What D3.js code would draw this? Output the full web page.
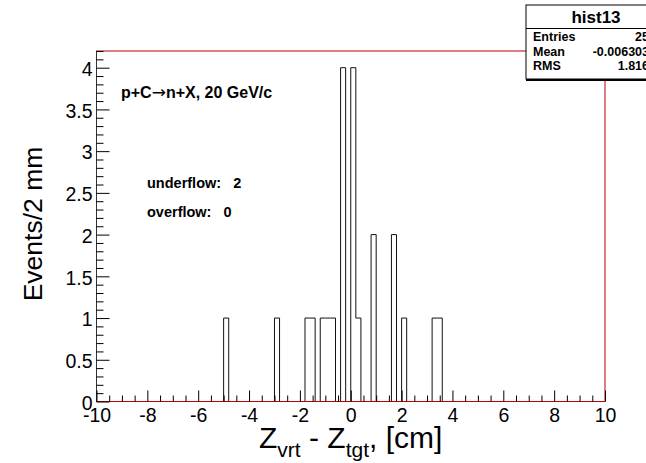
<!DOCTYPE html>
<html>
<head>
  <meta charset="utf-8">
  <style>
    body { margin: 0; background: #fff; }
    svg { display: block; background: #fff; font-family: "Liberation Sans", Arial, sans-serif; }
    .tick text { font-family: "Liberation Sans", Arial, sans-serif; }
  </style>
</head>
<body>
  <div id="chart"></div>
  <script src="https://d3js.org/d3.v7.min.js"></script>
  <script>
    // histogram hist13: 100 bins of 2 mm from -10 to 10 cm
    var xRange = [-10, 10];
    var counts = [
      0, 0, 0, 0, 0, 0, 0, 0, 0, 0,
      0, 0, 0, 0, 0, 0, 0, 0, 0, 0,
      0, 0, 0, 0, 0, 1, 0, 0, 0, 0,
      0, 0, 0, 0, 0, 1, 0, 0, 0, 0,
      0, 1, 1, 0, 1, 1, 1, 0, 4, 0,
      4, 1, 0, 0, 2, 0, 0, 0, 2, 0,
      1, 0, 0, 0, 0, 0, 1, 1, 0, 0,
      0, 0, 0, 0, 0, 0, 0, 0, 0, 0,
      0, 0, 0, 0, 0, 0, 0, 0, 0, 0,
      0, 0, 0, 0, 0, 0, 0, 0, 0, 0
    ];
    var xTicks = [-10, -8, -6, -4, -2, 0, 2, 4, 6, 8, 10];
    var yTicks = [0, 0.5, 1, 1.5, 2, 2.5, 3, 3.5, 4];
    var yMax = 4.2;

    var statsTitle = 'hist13';
    var statsNames = ['Entries', 'Mean', 'RMS'];
    var statsValues = ['25', '-0.006303', '1.816'];
    var notes = ['underflow:   2', 'overflow:   0'];

    var W = 646, H = 463;
    var frame = {left: 96.5, right: 605, top: 51, bottom: 401.5};

    var svg = d3.select('#chart')
        .append('svg')
        .attr('width', W)
        .attr('height', H);

    var x = d3.scaleLinear()
        .domain(xRange)
        .range([frame.left, frame.right]);

    var y = d3.scaleLinear()
        .domain([0, yMax])
        .range([frame.bottom, frame.top]);

    // histogram outline as steps
    var binW = (xRange[1] - xRange[0]) / counts.length;
    var pts = [[xRange[0], 0]];
    counts.forEach(function (c, i) {
      var lo = xRange[0] + i * binW;
      pts.push([lo, c]);
      pts.push([lo + binW, c]);
    });
    pts.push([xRange[1], 0]);

    svg.append('path')
        .datum(pts)
        .attr('fill', 'none')
        .attr('stroke', '#111')
        .attr('stroke-width', 1)
        .attr('d', d3.line().x(d => x(d[0])).y(d => y(d[1])));

    // frame
    svg.append('rect')
        .attr('x', frame.left)
        .attr('y', frame.top)
        .attr('width', frame.right - frame.left)
        .attr('height', frame.bottom - frame.top)
        .attr('fill', 'none')
        .attr('stroke', '#b80000')
        .attr('stroke-width', 1);

    svg.append('line')
        .attr('x1', frame.left).attr('x2', frame.left)
        .attr('y1', frame.top).attr('y2', frame.bottom)
        .attr('stroke', '#333');

    // minor ticks
    var xMinor = d3.range(-10, 10.01, 0.5).filter(v => xTicks.indexOf(v) < 0);
    var yMinor = d3.range(0, 4.201, 0.1).map(v => Math.round(v * 10) / 10)
        .filter(v => yTicks.indexOf(v) < 0);

    svg.append('g')
        .attr('transform', 'translate(0,' + frame.bottom + ')')
        .call(d3.axisBottom(x).tickValues(xMinor).tickSize(-6).tickFormat(''))
        .call(g => g.select('.domain').remove());

    svg.append('g')
        .attr('transform', 'translate(' + frame.left + ',0)')
        .call(d3.axisLeft(y).tickValues(yMinor).tickSize(-7).tickFormat(''))
        .call(g => g.select('.domain').remove());

    // major ticks + labels
    svg.append('g')
        .attr('transform', 'translate(0,' + frame.bottom + ')')
        .call(d3.axisBottom(x).tickValues(xTicks).tickSize(-11).tickPadding(7)
            .tickFormat(d => String(d)))
        .call(g => g.select('.domain').remove())
        .call(g => g.selectAll('text').attr('font-size', 19.5).attr('fill', '#000'));

    svg.append('g')
        .attr('transform', 'translate(' + frame.left + ',0)')
        .call(d3.axisLeft(y).tickValues(yTicks).tickSize(-13).tickPadding(4)
            .tickFormat(d => String(d)))
        .call(g => g.select('.domain').remove())
        .call(g => g.selectAll('text').attr('font-size', 19.5).attr('fill', '#000')
            .attr('dy', '0.4em'));

    svg.selectAll('.tick line').attr('stroke', '#000');

    // axis titles
    var xt = svg.append('text')
        .attr('x', 259)
        .attr('y', 448)
        .attr('font-size', 30)
        .attr('fill', '#000');
    xt.append('tspan').text('Z');
    xt.append('tspan').attr('font-size', 21).attr('dy', 9).text('vrt');
    xt.append('tspan').attr('dy', -9).style('white-space', 'pre').text(' - Z');
    xt.append('tspan').attr('font-size', 21).attr('dy', 9).text('tgt');
    xt.append('tspan').attr('dy', -9).style('white-space', 'pre').text(', [cm]');

    svg.append('text')
        .attr('transform', 'translate(42,224) rotate(-90)')
        .attr('text-anchor', 'middle')
        .attr('font-size', 26.5)
        .attr('fill', '#000')
        .text('Events/2 mm');

    // labels in the pad
    var rx = svg.append('text')
        .attr('x', 121)
        .attr('y', 98)
        .attr('font-size', 16)
        .attr('font-weight', 'bold');
    rx.append('tspan').text('p+C');
    rx.append('tspan')
        .attr('font-family', '"DejaVu Sans", sans-serif')
        .attr('font-weight', 'normal')
        .attr('font-size', 17)
        .text('\u2192');
    rx.append('tspan').text('n+X, 20 GeV/c');

    svg.selectAll('text.note')
        .data(notes)
        .enter().append('text')
        .attr('class', 'note')
        .attr('x', 147)
        .attr('y', (d, i) => 188 + i * 29)
        .attr('font-size', 14.5)
        .attr('font-weight', 'bold')
        .style('white-space', 'pre')
        .text(d => d);

    // stats box
    var sb = {x: 526, y: 5, w: 140, h: 74};
    svg.append('rect')
        .attr('x', sb.x).attr('y', sb.y + 2)
        .attr('width', sb.w).attr('height', sb.h)
        .attr('fill', '#000');
    svg.append('rect')
        .attr('x', sb.x).attr('y', sb.y)
        .attr('width', sb.w).attr('height', sb.h)
        .attr('fill', '#fff')
        .attr('stroke', '#000');
    svg.append('line')
        .attr('x1', sb.x).attr('x2', sb.x + sb.w)
        .attr('y1', 28.5).attr('y2', 28.5)
        .attr('stroke', '#000');
    svg.append('text')
        .attr('x', 596)
        .attr('y', 22.5)
        .attr('text-anchor', 'middle')
        .attr('font-size', 17)
        .attr('font-weight', 'bold')
        .text(statsTitle);
    statsNames.forEach(function (n, i) {
      svg.append('text')
          .attr('x', 533)
          .attr('y', 41 + i * 14.5)
          .attr('font-size', 12.5)
          .attr('font-weight', 'bold')
          .text(n);
      svg.append('text')
          .attr('x', 649)
          .attr('y', 41 + i * 14.5)
          .attr('text-anchor', 'end')
          .attr('font-size', 12.5)
          .attr('font-weight', 'bold')
          .text(statsValues[i]);
    });
  </script>
</body>
</html>
